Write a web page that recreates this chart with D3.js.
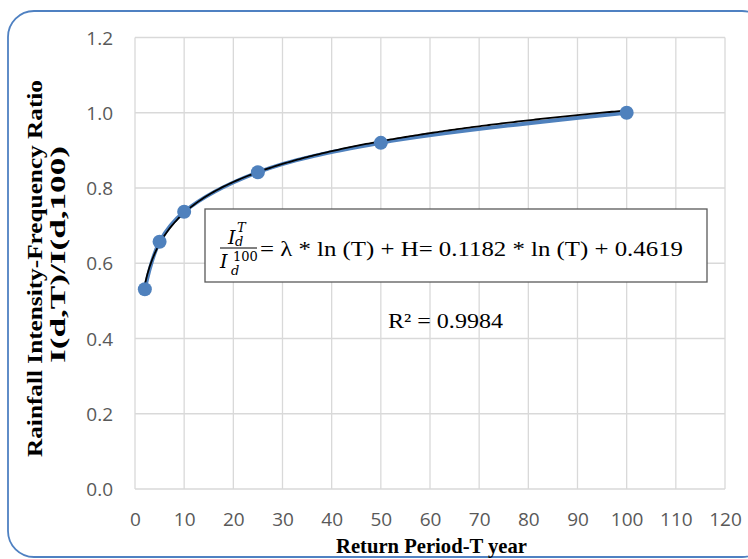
<!DOCTYPE html>
<html>
<head>
<meta charset="utf-8">
<script src="https://cdn.jsdelivr.net/npm/d3@7"></script>
<style>
  body { margin: 0; background: #fff; }
  svg { display: block; }
</style>
</head>
<body>
<div id="chart"></div>
<script>
// observed data (return period vs intensity ratio)
const returnPeriods = [2, 5, 10, 25, 50, 100];
const ratios = [0.531, 0.657, 0.737, 0.842, 0.920, 1.000];
const xTicks = [0, 10, 20, 30, 40, 50, 60, 70, 80, 90, 100, 110, 120];
const yTicks = [0.0, 0.2, 0.4, 0.6, 0.8, 1.0, 1.2];
// logarithmic trendline coefficients shown on the chart
const lambda = 0.1182;
const H = 0.4619;
const rSquared = "0.9984";

const W = 748, Hgt = 559;
const margin = { top: 37.5, right: 23, bottom: 70, left: 135 };
const width = W - margin.left - margin.right;
const height = Hgt - margin.top - margin.bottom;
const serif = "'Liberation Serif', 'Times New Roman', serif";

const svg = d3.select("#chart")
    .append("svg")
    .attr("width", W)
    .attr("height", Hgt);

// outer rounded frame
svg.append("rect")
    .attr("x", 8)
    .attr("y", 11)
    .attr("width", 760)
    .attr("height", 546)
    .attr("rx", 26)
    .attr("fill", "#fff")
    .attr("stroke", "#4f81c2")
    .attr("stroke-width", 1.8);

const g = svg.append("g")
    .attr("transform", `translate(${margin.left},${margin.top})`);

const x = d3.scaleLinear().domain([0, 120]).range([0, width]);
const y = d3.scaleLinear().domain([0, 1.2]).range([height, 0]);

// gridlines
g.append("g")
    .selectAll("line")
    .data(xTicks)
    .enter()
    .append("line")
    .attr("x1", d => x(d)).attr("x2", d => x(d))
    .attr("y1", 0).attr("y2", height)
    .attr("stroke", "#d9d9d9")
    .attr("stroke-width", 1.3);

g.append("g")
    .selectAll("line")
    .data(yTicks)
    .enter()
    .append("line")
    .attr("x1", 0).attr("x2", width)
    .attr("y1", d => y(d)).attr("y2", d => y(d))
    .attr("stroke", "#d9d9d9")
    .attr("stroke-width", 1.3);

// axes (labels only)
const xAxis = g.append("g")
    .attr("transform", `translate(0,${height})`)
    .call(d3.axisBottom(x).tickValues(xTicks).tickSize(0).tickPadding(24).tickFormat(d3.format("d")));
xAxis.select(".domain").remove();
xAxis.selectAll("text")
    .attr("font-family", "'Open Sans', 'Noto Sans', sans-serif")
    .attr("font-size", "19px")
    .attr("fill", "#595959");

const yAxis = g.append("g")
    .call(d3.axisLeft(y).tickValues(yTicks).tickSize(0).tickPadding(22).tickFormat(d3.format(".1f")));
yAxis.select(".domain").remove();
yAxis.selectAll("text")
    .attr("font-family", "'Open Sans', 'Noto Sans', sans-serif")
    .attr("font-size", "19px")
    .attr("fill", "#595959")
    .attr("dy", "0.35em");

// data line (smoothed) + markers
const pts = returnPeriods.map((t, i) => [t, ratios[i]]);
g.append("path")
    .datum(pts)
    .attr("fill", "none")
    .attr("stroke", "#4f81bd")
    .attr("stroke-width", 3.8)
    .attr("d", d3.line().x(d => x(d[0])).y(d => y(d[1])).curve(d3.curveCatmullRom.alpha(0.5)));

// trendline
const trendT = d3.range(2, 100.01, 0.5);
g.append("path")
    .datum(trendT)
    .attr("fill", "none")
    .attr("stroke", "#000")
    .attr("stroke-width", 1.8)
    .attr("d", d3.line().x(t => x(t)).y(t => y(lambda * Math.log(t) + H)));

g.selectAll(".dot")
    .data(pts)
    .enter()
    .append("circle")
    .attr("class", "dot")
    .attr("cx", d => x(d[0]))
    .attr("cy", d => y(d[1]))
    .attr("r", 7)
    .attr("fill", "#4f81bd");

// equation box
svg.append("rect")
    .attr("x", 205).attr("y", 209)
    .attr("width", 502).attr("height", 73)
    .attr("fill", "#fff")
    .attr("stroke", "#595959")
    .attr("stroke-width", 1.3);

const mathFont = "'DejaVu Serif', 'Liberation Serif', serif";
const eq = svg.append("g").attr("font-family", mathFont).attr("font-style", "italic").attr("fill", "#000");
eq.append("text").attr("x", 228).attr("y", 244).attr("font-size", "19px").text("I");
eq.append("text").attr("x", 237).attr("y", 232).attr("font-size", "13px").text("T");
eq.append("text").attr("x", 235).attr("y", 246).attr("font-size", "13px").text("d");
eq.append("line")
    .attr("x1", 220).attr("x2", 257).attr("y1", 248).attr("y2", 248)
    .attr("stroke", "#000").attr("stroke-width", 1);
eq.append("text").attr("x", 220).attr("y", 268).attr("font-size", "19px").text("I");
eq.append("text").attr("x", 233).attr("y", 261).attr("font-size", "13px").attr("font-style", "normal").text("100");
eq.append("text").attr("x", 231).attr("y", 275).attr("font-size", "13px").text("d");

svg.append("text")
    .attr("x", 260).attr("y", 256)
    .attr("font-family", serif)
    .attr("font-size", "22px")
    .attr("textLength", 423)
    .attr("lengthAdjust", "spacingAndGlyphs")
    .attr("fill", "#000")
    .text(`= \u03bb * ln (T) + H= ${lambda} * ln (T) + ${H}`);

svg.append("text")
    .attr("x", 388).attr("y", 328)
    .attr("font-family", serif)
    .attr("font-size", "22px")
    .attr("textLength", 115)
    .attr("lengthAdjust", "spacingAndGlyphs")
    .attr("fill", "#000")
    .text(`R\u00b2 = ${rSquared}`);

// axis titles
svg.append("text")
    .attr("x", 336).attr("y", 553)
    .attr("font-family", serif)
    .attr("font-weight", "bold")
    .attr("font-size", "21px")
    .attr("textLength", 191)
    .attr("lengthAdjust", "spacingAndGlyphs")
    .text("Return Period-T year");

const yTitle = svg.append("g")
    .attr("transform", "rotate(-90)")
    .attr("font-family", serif)
    .attr("font-weight", "bold")
    .attr("font-size", "21px");
yTitle.append("text").attr("x", -457).attr("y", 42)
    .attr("textLength", 377).attr("lengthAdjust", "spacingAndGlyphs")
    .text("Rainfall Intensity-Frequency Ratio");
yTitle.append("text").attr("x", -363).attr("y", 65)
    .attr("textLength", 217).attr("lengthAdjust", "spacingAndGlyphs")
    .text("I(d,T)/I(d,100)");
</script>
</body>
</html>
